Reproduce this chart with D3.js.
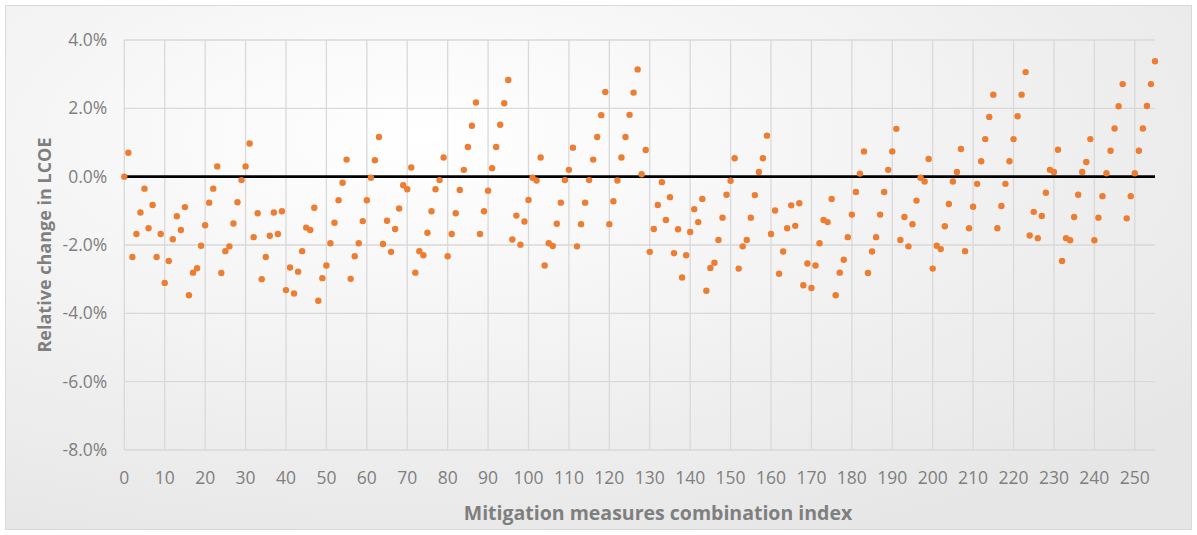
<!DOCTYPE html>
<html>
<head>
    <meta charset="utf-8">
    <script src="https://cdnjs.cloudflare.com/ajax/libs/d3/7.8.5/d3.min.js"></script>
    <style>
        body { margin: 0; background: #ffffff; }
        text { font-family: "Open Sans", "Liberation Sans", sans-serif; }
        .tick-label { font-size: 17.5px; fill: #7f7f7f; }
        .axis-title { font-weight: bold; fill: #7f7f7f; }
        .grid { stroke: #d9d9d9; stroke-width: 1.3px; }
    </style>
</head>
<body>
    <div id="chart"></div>
    <script>
        const width = 1197, height = 535;

        // relative change in LCOE (%) for combination index 0..255
        const relChange = [
            0.00, 0.70, -2.35, -1.68, -1.05, -0.35, -1.51, -0.83, -2.35, -1.68,
            -3.11, -2.47, -1.83, -1.16, -1.56, -0.89, -3.47, -2.81, -2.68, -2.02,
            -1.42, -0.76, -0.35, 0.30, -2.82, -2.18, -2.04, -1.37, -0.75, -0.10,
            0.30, 0.97, -1.77, -1.07, -3.00, -2.35, -1.73, -1.05, -1.68, -1.01,
            -3.32, -2.66, -3.42, -2.78, -2.18, -1.49, -1.56, -0.91, -3.63, -2.97,
            -2.60, -1.95, -1.35, -0.69, -0.18, 0.50, -2.99, -2.33, -1.95, -1.30,
            -0.69, -0.03, 0.48, 1.16, -1.97, -1.29, -2.20, -1.53, -0.93, -0.25,
            -0.37, 0.27, -2.81, -2.18, -2.30, -1.64, -1.01, -0.37, -0.10, 0.56,
            -2.33, -1.68, -1.07, -0.39, 0.20, 0.87, 1.49, 2.17, -1.68, -1.01,
            -0.41, 0.25, 0.87, 1.52, 2.15, 2.83, -1.84, -1.14, -1.99, -1.31,
            -0.68, -0.03, -0.11, 0.56, -2.60, -1.95, -2.03, -1.38, -0.76, -0.10,
            0.20, 0.85, -2.04, -1.39, -0.76, -0.10, 0.50, 1.16, 1.80, 2.48,
            -1.39, -0.72, -0.11, 0.56, 1.16, 1.81, 2.46, 3.14, 0.07, 0.78,
            -2.20, -1.53, -0.83, -0.16, -1.27, -0.60, -2.24, -1.54, -2.95, -2.30,
            -1.62, -0.95, -1.33, -0.65, -3.34, -2.67, -2.52, -1.85, -1.20, -0.53,
            -0.12, 0.54, -2.69, -2.04, -1.85, -1.20, -0.54, 0.14, 0.54, 1.20,
            -1.68, -0.99, -2.84, -2.19, -1.51, -0.84, -1.44, -0.78, -3.18, -2.54,
            -3.26, -2.60, -1.95, -1.27, -1.33, -0.65, -3.47, -2.81, -2.43, -1.77,
            -1.11, -0.45, 0.09, 0.74, -2.82, -2.19, -1.77, -1.11, -0.45, 0.20,
            0.74, 1.40, -1.85, -1.18, -2.04, -1.39, -0.70, -0.03, -0.14, 0.52,
            -2.69, -2.02, -2.12, -1.45, -0.80, -0.14, 0.14, 0.81, -2.18, -1.51,
            -0.88, -0.21, 0.45, 1.10, 1.75, 2.40, -1.51, -0.86, -0.21, 0.45,
            1.10, 1.77, 2.40, 3.06, -1.72, -1.03, -1.80, -1.15, -0.47, 0.20,
            0.14, 0.79, -2.47, -1.80, -1.86, -1.18, -0.53, 0.14, 0.43, 1.10,
            -1.86, -1.20, -0.57, 0.10, 0.76, 1.41, 2.06, 2.71, -1.22, -0.57,
            0.10, 0.76, 1.41, 2.07, 2.71, 3.38
        ];
        const xTicks = [0, 10, 20, 30, 40, 50, 60, 70, 80, 90, 100, 110, 120,
            130, 140, 150, 160, 170, 180, 190, 200, 210, 220, 230, 240, 250];
        const yTicks = [-8, -6, -4, -2, 0, 2, 4];
        const yTickLabels = ["-8.0%", "-6.0%", "-4.0%", "-2.0%", "0.0%", "2.0%", "4.0%"];

        const plot = { left: 124.3, right: 1155, top: 40, bottom: 450 };

        const svg = d3.select("#chart").append("svg")
            .attr("width", width).attr("height", height);

        // chart area background with soft gradient
        const defs = svg.append("defs");
        const grad = defs.append("radialGradient").attr("id", "bg")
            .attr("cx", "35%").attr("cy", "25%").attr("r", "85%");
        grad.append("stop").attr("offset", "0%").attr("stop-color", "#ffffff");
        grad.append("stop").attr("offset", "100%").attr("stop-color", "#e6e6e6");

        svg.append("rect")
            .attr("x", 5.5).attr("y", 5.5)
            .attr("width", width - 11).attr("height", height - 11)
            .attr("fill", "url(#bg)")
            .attr("stroke", "#d9d9d9").attr("stroke-width", 1);

        const x = d3.scaleLinear().domain([0, 255]).range([plot.left, plot.right]);
        const y = d3.scaleLinear().domain([-8, 4]).range([plot.bottom, plot.top]);

        // gridlines
        svg.append("g").selectAll("line")
            .data(xTicks)
            .enter().append("line")
            .attr("class", "grid")
            .attr("x1", d => x(d)).attr("x2", d => x(d))
            .attr("y1", y(4)).attr("y2", y(-8));

        svg.append("g").selectAll("line")
            .data(yTicks.filter(d => d !== 0))
            .enter().append("line")
            .attr("class", "grid")
            .attr("x1", x(0)).attr("x2", x(255))
            .attr("y1", d => y(d)).attr("y2", d => y(d));

        // tick labels
        svg.append("g").selectAll("text")
            .data(yTicks)
            .enter().append("text")
            .attr("class", "tick-label")
            .attr("x", plot.left - 17)
            .attr("y", d => y(d))
            .attr("dy", "0.35em")
            .attr("text-anchor", "end")
            .text((d, i) => yTickLabels[i]);

        svg.append("g").selectAll("text")
            .data(xTicks)
            .enter().append("text")
            .attr("class", "tick-label")
            .attr("x", d => x(d))
            .attr("y", 484)
            .attr("text-anchor", "middle")
            .text(d => d);

        // zero line (horizontal axis)
        svg.append("line")
            .attr("x1", x(0)).attr("x2", x(255))
            .attr("y1", y(0)).attr("y2", y(0))
            .attr("stroke", "#000").attr("stroke-width", 2.6);

        // points
        svg.append("g").selectAll("circle")
            .data(relChange)
            .enter().append("circle")
            .attr("cx", (d, i) => x(i))
            .attr("cy", d => y(d))
            .attr("r", 3.2)
            .attr("fill", "#ed7d31");

        // axis titles
        svg.append("text")
            .attr("class", "axis-title")
            .attr("font-size", "19.5px")
            .attr("x", 658).attr("y", 520)
            .attr("text-anchor", "middle")
            .text("Mitigation measures combination index");

        svg.append("text")
            .attr("class", "axis-title")
            .attr("font-size", "18px")
            .attr("transform", `translate(51,${(plot.top + plot.bottom) / 2}) rotate(-90)`)
            .attr("text-anchor", "middle")
            .text("Relative change in LCOE");
    </script>
</body>
</html>
